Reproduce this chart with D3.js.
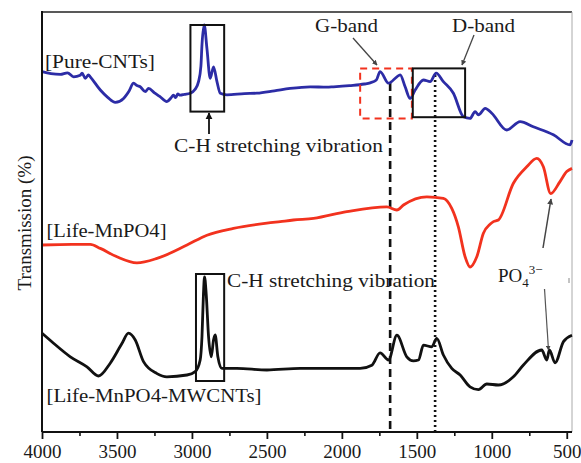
<!DOCTYPE html>
<html>
<head>
<meta charset="utf-8">
<script src="https://cdn.jsdelivr.net/npm/d3@7"></script>
<style>
  body { margin: 0; background: #fff; }
  svg text { font-family: "Liberation Serif", "Times New Roman", "DejaVu Serif", serif; fill: #1a1a1a; }
</style>
</head>
<body>
<svg id="chart" width="581" height="463"></svg>
<script>
// FT-IR spectra, wavenumber (cm-1) vs transmission (arbitrary, offset traces)

var pureCNTs = [
  [4000,90.1],[3940,89.6],[3878,89.4],[3830,89.8],[3789,88.8],[3745,89.2],[3733,89.7],[3711,88.4],
  [3690,89.3],[3678,88.8],[3611,85.5],[3560,83.6],[3511,82.4],[3456,83.4],[3420,85.2],[3389,87.2],
  [3367,86.6],[3345,86.3],[3311,85.1],[3289,85.9],[3250,84.8],[3215,83.9],[3167,82.6],[3140,83.5],
  [3123,84.2],[3108,83.6],[3095,84.5],[3078,84.2],[3050,84.4],[3011,84.7],[2980,85.6],[2956,87.6],
  [2940,91.5],[2933,96.8],[2918,101.8],[2900,95.9],[2878,88.4],[2856,91.3],[2833,87.6],[2811,84.7],
  [2767,84.3],[2650,84.6],[2567,84.7],[2450,85.3],[2345,85.9],[2211,86.3],[2100,86.2],[2056,86.3],
  [1950,86.6],[1850,87.0],[1811,87.3],[1770,88.0],[1745,90.1],[1689,87.2],[1633,88.8],[1611,89.3],
  [1578,86.3],[1545,83.4],[1511,85.5],[1456,88.0],[1411,87.6],[1371,89.7],[1323,87.6],[1256,84.7],
  [1189,78.8],[1145,78.4],[1111,80.1],[1089,79.3],[1044,80.9],[1000,79.7],[900,75.5],[811,77.6],
  [723,76.3],[589,74.3],[478,71.8],[465,73.0]
];

var lifeMnPO4 = [
  [4000,46.75],[3800,46.9],[3678,46.9],[3611,45.9],[3500,43.8],[3367,42.3],[3233,43.4],[3033,46.75],
  [2900,49.2],[2723,50.9],[2500,52.2],[2411,52.6],[2323,53.0],[2189,53.4],[1967,55.1],
  [1700,56.3],[1633,55.5],[1589,56.75],[1433,58.8],[1323,58.4],[1267,55.9],[1223,51.3],
  [1178,43.8],[1145,41.25],[1100,43.8],[1056,49.7],[1010,52.0],[989,52.6],[956,53.0],[856,62.2],
  [767,66.3],[700,68.4],[656,66.3],[607,59.6],[545,62.6],[500,65.1],[465,65.9]
];

var lifeMnPO4MWCNTs = [
  [4000,24.7],[3923,22.2],[3811,18.8],[3700,16.3],[3623,14.0],[3545,17.2],[3467,22.1],
  [3423,24.7],[3378,23.0],[3323,17.6],[3233,14.6],[3167,13.8],[3033,14.25],[2978,15.1],
  [2945,18.0],[2933,23.8],[2923,34.6],[2916,38.8],[2905,34.6],[2889,23.8],[2871,18.8],
  [2856,23.0],[2845,24.25],[2827,18.8],[2800,15.9],[2700,15.9],[2500,15.5],[2278,15.9],
  [2078,15.9],[1878,15.9],[1800,16.7],[1745,19.8],[1689,18.0],[1633,24.2],[1567,18.8],
  [1523,17.8],[1489,18.0],[1456,21.7],[1400,21.3],[1367,23.4],[1323,19.25],[1267,15.9],
  [1211,14.25],[1145,11.3],[1089,10.6],[1033,12.0],[956,11.75],[856,13.8],[789,16.75],
  [667,20.5],[633,18.0],[616,20.5],[578,17.3],[522,22.6],[465,24.2]
];

var majorTicks = [4000,3500,3000,2500,2000,1500,1000,500];
var minorTicks = [3750,3250,2750,2250,1750,1250,750];

// boxes [w1, w2, vTop, vBottom]
var boxCHtop = [3010,2785,101.75,80.1];
var boxG = [1878,1533,90.9,78.4];
var boxD = [1527,1178,90.9,78.7];
var boxCHbottom = [2973,2785,39.5,12.75];
var markerLines = [{w:1678,top:87.25,dash:"8,5"},{w:1378,top:89.25,dash:"2,3"}];

var svg = d3.select("#chart");
var mLeft = 42, mRight = 572, mTop = 12, mBottom = 432;

var x = d3.scaleLinear().domain([4000,465]).range([mLeft,mRight]);
var y = d3.scaleLinear().domain([0,105]).range([mBottom,mTop]);

var defs = svg.append("defs");
function marker(id, color){
  defs.append("marker")
    .attr("id",id)
    .attr("viewBox","0 0 10 10")
    .attr("refX",9).attr("refY",5)
    .attr("markerWidth",4).attr("markerHeight",4)
    .attr("orient","auto")
    .append("path").attr("d","M0,0L10,5L0,10z").attr("fill",color);
}
marker("ahBlack","#111");
marker("ahGrey","#444");

// frame
svg.append("line").attr("x1",mLeft).attr("x2",mRight).attr("y1",mTop).attr("y2",mTop)
  .attr("stroke","#222").attr("stroke-width",1.6);
svg.append("line").attr("x1",mRight).attr("x2",mRight).attr("y1",mTop).attr("y2",mBottom)
  .attr("stroke","#aaa").attr("stroke-width",1);

// vertical marker lines
svg.append("g").selectAll("line")
  .data(markerLines)
  .enter().append("line")
  .attr("x1",function(d){return x(d.w);})
  .attr("x2",function(d){return x(d.w);})
  .attr("y1",function(d){return y(d.top);})
  .attr("y2",mBottom)
  .attr("stroke","#111")
  .attr("stroke-width",2.6)
  .attr("stroke-dasharray",function(d){return d.dash;});

// spectra
var line = d3.line()
  .x(function(d){return x(d[0]);})
  .y(function(d){return y(d[1]);})
  .curve(d3.curveMonotoneX);
var series = [
  {data:pureCNTs, color:"#2c2ca6"},
  {data:lifeMnPO4, color:"#f2321e"},
  {data:lifeMnPO4MWCNTs, color:"#111"}
];
svg.append("g").selectAll("path")
  .data(series)
  .enter().append("path")
  .attr("d",function(d){return line(d.data);})
  .attr("fill","none")
  .attr("stroke",function(d){return d.color;})
  .attr("stroke-width",2.8)
  .attr("stroke-linejoin","round");

// boxes
function box(b, color, dash){
  svg.append("rect")
    .attr("x",x(b[0])).attr("y",y(b[2]))
    .attr("width",x(b[1])-x(b[0])).attr("height",y(b[3])-y(b[2]))
    .attr("fill","none").attr("stroke",color).attr("stroke-width",2)
    .attr("stroke-dasharray",dash||null);
}
box(boxCHtop,"#111");
box(boxG,"#f2321e","7,5");
box(boxD,"#111");
box(boxCHbottom,"#111");

// arrows
function arrow(x1,y1,x2,y2,id,color,w){
  svg.append("line").attr("x1",x1).attr("y1",y1).attr("x2",x2).attr("y2",y2)
    .attr("stroke",color).attr("stroke-width",w)
    .attr("marker-end","url(#"+id+")");
}
arrow(209,134,209,113,"ahBlack","#111",1.8);
arrow(353,38,377,65,"ahGrey","#444",1.3);
arrow(474,35,462,65,"ahGrey","#444",1.3);
arrow(543,248,551,199,"ahGrey","#444",1.5);
arrow(544.5,289,548.5,350,"ahGrey","#555",1.2);
svg.append("line").attr("x1",569).attr("x2",569).attr("y1",278).attr("y2",283)
  .attr("stroke","#888").attr("stroke-width",1);

// axes
var xAxis = svg.append("g").attr("transform","translate(0,"+mBottom+")")
  .call(d3.axisBottom(x).tickValues(majorTicks).tickSize(7).tickPadding(6).tickFormat(d3.format("d")));
xAxis.select(".domain").remove();
xAxis.selectAll("line").attr("stroke","#111").attr("stroke-width",1.8);
xAxis.selectAll("text").attr("font-size",19).attr("fill","#1a1a1a")
  .style("font-family","'Liberation Serif', serif");

var xMinor = svg.append("g").attr("transform","translate(0,"+mBottom+")")
  .call(d3.axisBottom(x).tickValues(minorTicks).tickSize(4).tickFormat(""));
xMinor.select(".domain").remove();
xMinor.selectAll("line").attr("stroke","#111").attr("stroke-width",1.6);

svg.append("line").attr("x1",mLeft).attr("x2",mRight).attr("y1",mBottom).attr("y2",mBottom)
  .attr("stroke","#111").attr("stroke-width",2);
svg.append("line").attr("x1",mLeft).attr("x2",mLeft).attr("y1",mTop-1).attr("y2",mBottom)
  .attr("stroke","#111").attr("stroke-width",2);

// texts
function label(t, px, py, w){
  svg.append("text").attr("x",px).attr("y",py).attr("font-size",19)
    .attr("textLength",w).attr("lengthAdjust","spacingAndGlyphs").text(t);
}
label("[Pure-CNTs]",45,68,110);
label("C-H stretching vibration",174,152,209);
label("G-band",315,31.5,63);
label("D-band",452,31.5,63);
label("[Life-MnPO4]",46.5,237,120);
label("C-H stretching vibration",227,287,208);
label("[Life-MnPO4-MWCNTs]",46.5,402,215);

var po = svg.append("text").attr("x",498).attr("y",282).attr("font-size",19);
po.append("tspan").text("PO");
po.append("tspan").attr("font-size",13).attr("dy",5).text("4");
po.append("tspan").attr("font-size",13).attr("dy",-13).text("3−");

svg.append("text")
  .attr("transform","translate(31,223) rotate(-90)")
  .attr("text-anchor","middle")
  .attr("font-size",19)
  .text("Transmission (%)");
</script>
</body>
</html>
